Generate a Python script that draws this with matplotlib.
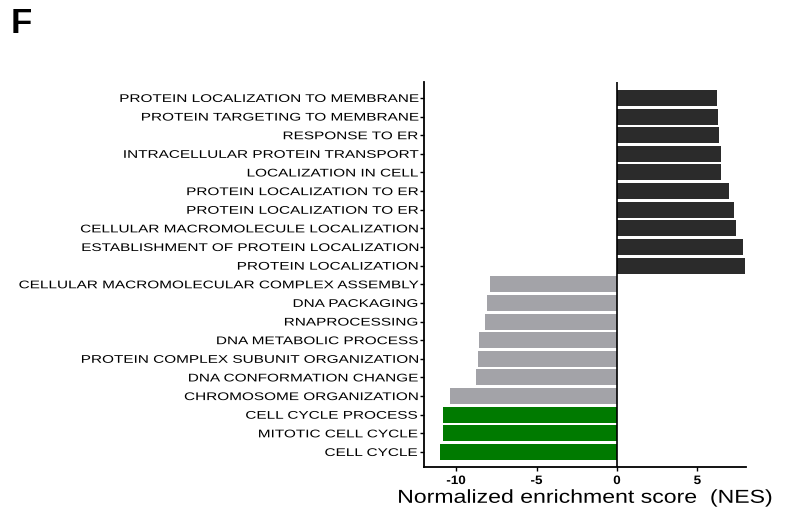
import matplotlib
matplotlib.use("Agg")
import matplotlib.pyplot as plt
from matplotlib.patheffects import AbstractPathEffect
from matplotlib.transforms import Affine2D

plt.rcParams['font.family'] = ['Liberation Sans', 'DejaVu Sans']

# Gene sets, listed top to bottom
terms = [
    "PROTEIN LOCALIZATION TO MEMBRANE",
    "PROTEIN TARGETING TO MEMBRANE",
    "RESPONSE TO ER",
    "INTRACELLULAR PROTEIN TRANSPORT",
    "LOCALIZATION IN CELL",
    "PROTEIN LOCALIZATION TO ER",
    "PROTEIN LOCALIZATION TO ER",
    "CELLULAR MACROMOLECULE LOCALIZATION",
    "ESTABLISHMENT OF PROTEIN LOCALIZATION",
    "PROTEIN LOCALIZATION",
    "CELLULAR MACROMOLECULAR COMPLEX ASSEMBLY",
    "DNA PACKAGING",
    "RNAPROCESSING",
    "DNA METABOLIC PROCESS",
    "PROTEIN COMPLEX SUBUNIT ORGANIZATION",
    "DNA CONFORMATION CHANGE",
    "CHROMOSOME ORGANIZATION",
    "CELL CYCLE PROCESS",
    "MITOTIC CELL CYCLE",
    "CELL CYCLE",
]
nes = [6.21, 6.31, 6.37, 6.48, 6.48, 6.94, 7.27, 7.37, 7.85, 7.98,
       -7.90, -8.10, -8.23, -8.60, -8.65, -8.77, -10.36, -10.83, -10.83, -11.02]
groups = ["up"] * 10 + ["down"] * 7 + ["cycle"] * 3
group_colors = {"up": "#2b2b2b", "down": "#a3a3a8", "cycle": "#007a00"}
xticks = [-10, -5, 0, 5]


class HStretch(AbstractPathEffect):
    """Widen glyphs horizontally around the right edge or the centre."""

    def __init__(self, sx, anchor="right"):
        super().__init__()
        self.sx = sx
        self.anchor = anchor

    def draw_path(self, renderer, gc, tpath, affine, rgbFace=None):
        ext = tpath.get_extents(affine)
        x0 = ext.x1 if self.anchor == "right" else 0.5 * (ext.x0 + ext.x1)
        stretch = Affine2D().translate(-x0, 0).scale(self.sx, 1).translate(x0, 0)
        renderer.draw_path(gc, tpath, affine + stretch, rgbFace)


fig = plt.figure(figsize=(7.91, 5.12), dpi=100)
ax = fig.add_axes([0.536, 0.0885, 0.4067, 0.7515])

pos = list(range(len(terms)))
ax.barh(pos, nes, height=0.86, color=[group_colors[g] for g in groups],
        edgecolor="none", zorder=2)
ax.axvline(0, color="black", linewidth=1.2, zorder=3)

ax.set_ylim(len(terms) - 1 + 0.79, -0.86)
ax.set_xlim(-12, 8)
ax.set_yticks(pos)
ax.set_yticklabels(terms, fontsize=8)
ax.set_xticks(xticks)
ax.set_xticklabels([str(t) for t in xticks], fontsize=8.8, fontweight="bold")

for side in ("top", "right"):
    ax.spines[side].set_visible(False)
for side in ("left", "bottom"):
    ax.spines[side].set_linewidth(1.3)
ax.tick_params(axis="y", direction="out", length=3, width=1, pad=1.5)
ax.tick_params(axis="x", direction="out", length=3, width=1, pad=3)

for lab in ax.get_yticklabels():
    lab.set_path_effects([HStretch(1.38, "right")])
for lab in ax.get_xticklabels():
    lab.set_path_effects([HStretch(1.1, "center")])

xl = ax.set_xlabel("Normalized enrichment score  (NES)", fontsize=13.5, labelpad=2)
xl.set_path_effects([HStretch(1.23, "center")])

fig.text(0.013, 0.935, "F", fontsize=25, fontweight="bold")

fig.savefig("out.png", dpi=100)
